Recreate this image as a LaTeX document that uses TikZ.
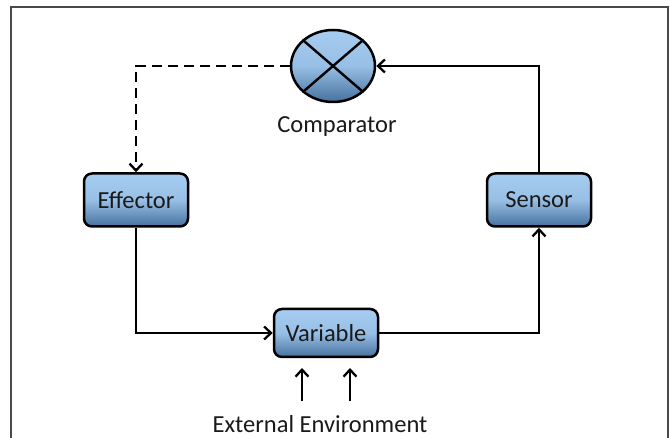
\documentclass[tikz,border=0pt]{standalone}
\usepackage{fontspec}
\setmainfont{Carlito}
\usetikzlibrary{arrows.meta,shapes.geometric}
\definecolor{topblue}{HTML}{A6CCF1}
\definecolor{botblue}{HTML}{46729F}
\definecolor{frame}{HTML}{4A4A4A}
\definecolor{txt}{HTML}{1A1A1A}
\tikzset{
  box/.style={draw=black, line width=2.5pt, rounded corners=8pt, minimum width=104pt, minimum height=53pt,
    top color=topblue, bottom color=botblue, middle color=topblue!85!botblue, inner sep=0pt,
    text=txt, font=\fontsize{24.5}{28}\selectfont},
  comp/.style={draw=black, line width=2.5pt, ellipse, minimum width=84pt, minimum height=72pt,
    top color=topblue, bottom color=botblue, middle color=topblue!85!botblue, inner sep=0pt},
  conn/.style={line width=2.3pt, -{Straight Barb[length=7pt,width=13pt,line width=2.3pt]}},
  lbl/.style={text=txt, font=\fontsize{24.5}{28}\selectfont, inner sep=0pt},
}
\begin{document}
\begin{tikzpicture}[x=1pt,y=-1pt]
\useasboundingbox (0,0) rectangle (670,438);
\fill[white] (0,0) rectangle (670,438);
\draw[frame, line width=1.6pt] (11,438) -- (11,7) -- (668,7) -- (668,438);

\node[comp] (cmp) at (333,66) {};
\draw[line width=2.4pt] (cmp.north west) -- (cmp.south east);
\draw[line width=2.4pt] (cmp.north east) -- (cmp.south west);
\node[lbl] (cmplbl) at (337,127) {Comparator};

\node[box] (eff) at (136,200) {Effector};
\node[box] (sen) at (539,200) {Sensor};
\node[box, minimum height=48pt] (var) at (326,333) {Variable};

\node[lbl] (ext) at (320,424) {External Environment};
\coordinate (e1) at (302,401);
\coordinate (e2) at (350,401);

\draw[conn] (sen.north) |- (cmp.east);
\draw[conn, dash pattern=on 10pt off 6pt] (cmp.west) -| (eff.north);
\draw[conn] (eff.south) |- (var.west);
\draw[conn] (var.east) -| (sen.south);
\draw[conn] (e1) -- (302,368);
\draw[conn] (e2) -- (350,368);
\end{tikzpicture}
\end{document}
